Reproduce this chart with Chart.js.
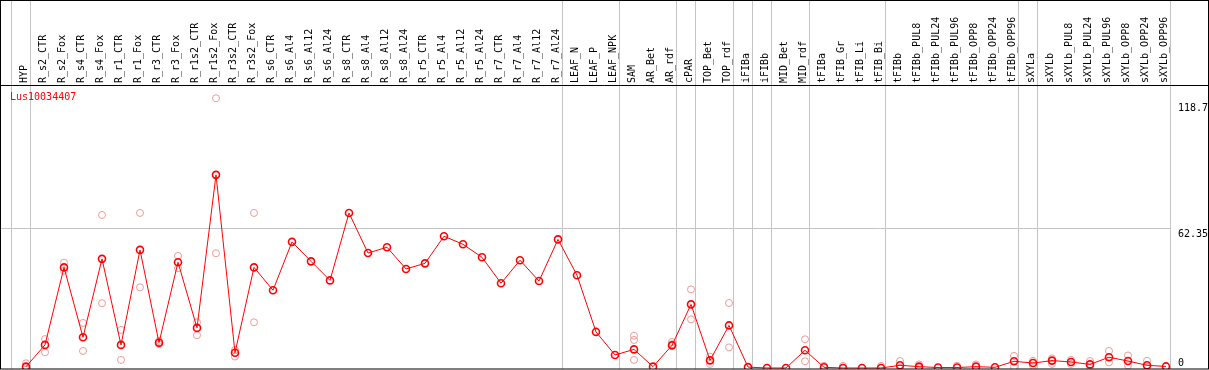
<!DOCTYPE html>
<html>
<head>
<meta charset="utf-8">
<script src="https://cdn.jsdelivr.net/npm/chart.js@4/dist/chart.umd.min.js"></script>
<style>
  html, body { margin: 0; padding: 0; background: #fff; }
  #wrap { width: 1209px; height: 370px; }
</style>
</head>
<body>
<div id="wrap"><canvas id="chart" width="1209" height="370"></canvas></div>
<script>
// sample names along the top
const categories = [
  'HYP', 'R_s2_CTR', 'R_s2_Fox', 'R_s4_CTR', 'R_s4_Fox', 'R_r1_CTR', 'R_r1_Fox',
  'R_r3_CTR', 'R_r3_Fox', 'R_r1s2_CTR', 'R_r1s2_Fox', 'R_r3s2_CTR', 'R_r3s2_Fox',
  'R_s6_CTR', 'R_s6_Al4', 'R_s6_Al12', 'R_s6_Al24', 'R_s8_CTR', 'R_s8_Al4',
  'R_s8_Al12', 'R_s8_Al24', 'R_r5_CTR', 'R_r5_Al4', 'R_r5_Al12', 'R_r5_Al24',
  'R_r7_CTR', 'R_r7_Al4', 'R_r7_Al12', 'R_r7_Al24', 'LEAF_N', 'LEAF_P', 'LEAF_NPK',
  'SAM', 'AR_Bet', 'AR_rdf', 'cPAR', 'TOP_Bet', 'TOP_rdf', 'iFIBa', 'iFIBb',
  'MID_Bet', 'MID_rdf', 'tFIBa', 'tFIB_Gr', 'tFIB_Li', 'tFIB_Bi', 'tFIBb',
  'tFIBb_PUL8', 'tFIBb_PUL24', 'tFIBb_PUL96', 'tFIBb_OPP8', 'tFIBb_OPP24', 'tFIBb_OPP96',
  'sXYLa', 'sXYLb', 'sXYLb_PUL8', 'sXYLb_PUL24', 'sXYLb_PUL96', 'sXYLb_OPP8',
  'sXYLb_OPP24', 'sXYLb_OPP96'
];

// last sample index of each group (a grey line is drawn after it)
const groupEnds = [-1, 0, 28, 31, 34, 35, 37, 38, 39, 41, 45, 52, 53, 60];

const geneName = 'Lus10034407';

// mean expression per sample
const means = [
  0.6, 10.3, 44.9, 13.7, 48.7, 10.3, 52.7, 11.3, 47.2, 17.9, 86.2, 6.8, 44.9,
  34.7, 56.3, 47.6, 39.1, 69.2, 51.3, 53.9, 44.2, 46.7, 58.8, 55.2, 49.4,
  37.8, 48.1, 38.8, 57.4, 41.4, 16.1, 5.8,
  8.3, 0.6, 10.1, 28.4, 3.4, 19.0, 0.4, 0, 0, 7.9, 0.3, 0, 0, 0,
  1.2, 0.6, 0.2, 0.2, 0.6, 0.3, 3.0,
  2.2, 3.3, 2.7, 1.6, 4.8, 3.1, 1.2, 0.7
];

// individual replicates
const rep1 = [
  2.1, 12.9, 47.0, 20.1, 68.3, 17.0, 69.2, 12.1, 50.0, 20.4, 120.4, 8.0, 69.2,
  null, null, null, null, null, null, null, null, null, null, null, null,
  null, null, null, null, null, null, null,
  14.4, null, 11.6, 35.1, 5.1, 29.0, null, null, null, 12.8, 1.0, 0.9, null, 0.9,
  3.1, 1.6, null, 1.0, 1.6, null, 5.4,
  3.2, 4.3, 3.6, 3.1, 7.6, 5.6, 3.2, null
];
const rep2 = [
  0, 7.0, 43.4, 7.6, 28.9, 3.6, 36.0, 10.6, 44.5, 14.6, 51.2, 5.1, 20.4,
  null, null, null, null, null, null, null, null, null, null, null, null,
  null, null, null, null, null, null, null,
  3.6, null, 10.6, 21.7, 1.8, 9.2, null, null, null, 3.0, null, null, null, null,
  0, 0, null, null, null, null, 0.6,
  1.0, 1.8, 1.8, 0.7, 2.5, 1.1, 0.6, null
];
const rep3 = [
  null, null, null, null, null, null, null, null, null, null, null, null, null,
  null, null, null, null, null, null, null, null, null, null, null, null,
  null, null, null, null, null, null, null,
  12.5, null, null, null, null, null, null, null, null, null, null, null, null, null,
  null, null, null, null, null, null, null,
  null, null, null, null, null, null, null, null
];

const yTickValues = [0, 62.35, 118.7];

const FONT = 'DejaVu Sans Mono';
const X_MIN = -1.316, X_MAX = 60.263;

function toPoints(arr) {
  return arr.map((v, i) => ({ x: i, y: v }));
}

function repSet(arr) {
  return {
    type: 'line',
    data: toPoints(arr),
    showLine: false,
    pointRadius: 3.5,
    pointBorderWidth: 1,
    pointBorderColor: '#ec9a9a',
    pointBackgroundColor: 'rgba(0,0,0,0)',
    order: 2
  };
}

// no extra side padding for the rotated labels
function noSidePad(axis) {
  axis.paddingLeft = 0;
  axis.paddingRight = 0;
}

// frame, gene name and right-hand value labels
const decor = {
  id: 'decor',
  afterDraw(chart) {
    const ctx = chart.ctx;
    const y = chart.scales.y;
    ctx.save();
    ctx.font = '10px "' + FONT + '"';
    ctx.textBaseline = 'top';
    ctx.textAlign = 'left';
    ctx.fillStyle = '#000';
    yTickValues.forEach(v => {
      let py = y.getPixelForValue(v) + 1.5;
      py = Math.min(py, chart.chartArea.bottom - 11);
      ctx.fillText(String(v), chart.chartArea.right + 7, py);
    });
    ctx.fillStyle = '#ff0000';
    ctx.fillText(geneName, 10, chart.chartArea.top + 7);

    ctx.strokeStyle = '#000';
    ctx.lineWidth = 1;
    ctx.strokeRect(0.5, 0.5, chart.width - 1, chart.height - 1.5);
    ctx.beginPath();
    ctx.moveTo(0, chart.chartArea.top + 0.5);
    ctx.lineTo(chart.width, chart.chartArea.top + 0.5);
    ctx.stroke();
    ctx.restore();
  }
};

new Chart(document.getElementById('chart'), {
  type: 'line',
  data: {
    datasets: [
      {
        data: toPoints(means),
        borderColor: '#ff0000',
        borderWidth: 1,
        tension: 0,
        pointRadius: 3.5,
        pointBorderWidth: 1.6,
        pointBorderColor: '#ff0000',
        pointBackgroundColor: 'rgba(0,0,0,0)',
        order: 1
      },
      repSet(rep1),
      repSet(rep2),
      repSet(rep3)
    ]
  },
  options: {
    responsive: false,
    animation: false,
    devicePixelRatio: 1,
    layout: { autoPadding: false, padding: { left: 1, right: 0, top: 0, bottom: 1 } },
    plugins: { legend: { display: false }, tooltip: { enabled: false } },
    scales: {
      x: {
        type: 'linear',
        position: 'top',
        weight: 1,
        min: X_MIN,
        max: X_MAX,
        bounds: 'data',
        afterBuildTicks: axis => {
          axis.ticks = categories.map((_, i) => ({ value: i }));
        },
        afterFit: axis => { axis.height = 85; noSidePad(axis); },
        ticks: {
          autoSkip: false,
          minRotation: 90,
          maxRotation: 90,
          padding: 2,
          labelOffset: 10,
          color: '#000',
          font: { family: FONT, size: 10 },
          callback: v => categories[v]
        },
        grid: { display: false, drawTicks: false },
        border: { display: false }
      },
      sep: {
        type: 'linear',
        position: 'top',
        weight: 0,
        min: X_MIN,
        max: X_MAX,
        bounds: 'data',
        afterBuildTicks: axis => {
          axis.ticks = groupEnds.map(k => ({ value: k + 0.25 }));
        },
        afterFit: axis => { axis.height = 0; noSidePad(axis); },
        ticks: { display: false },
        grid: { color: '#c4c4c4', lineWidth: 1, drawTicks: true, tickLength: 85 },
        border: { display: false }
      },
      y: {
        type: 'linear',
        position: 'right',
        min: -0.45,
        max: 126.3,
        bounds: 'data',
        afterBuildTicks: axis => {
          axis.ticks = yTickValues.map(v => ({ value: v }));
        },
        afterFit: axis => { axis.width = 38; },
        ticks: { display: false },
        grid: {
          drawTicks: false,
          color: c => (c.tick && c.tick.value === 62.35 ? '#c4c4c4' : 'rgba(0,0,0,0)')
        },
        border: { display: false }
      }
    }
  },
  plugins: [decor]
});
</script>
</body>
</html>
